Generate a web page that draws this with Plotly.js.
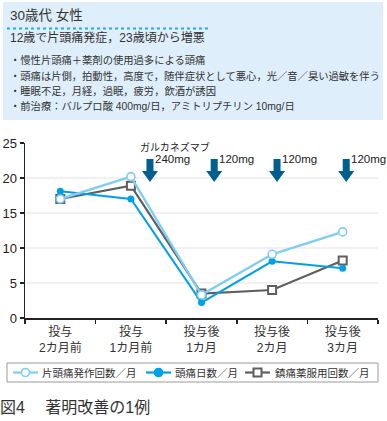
<!DOCTYPE html>
<html><head><meta charset="utf-8">
<script src="https://cdn.plot.ly/plotly-3.0.1.min.js"></script>
<style>html,body{margin:0;padding:0;background:#fff}#chart{width:387px;height:421px}</style>
</head><body><div id="chart"></div>
<script>
// ---- data ----
const categories = ['投与<br>2カ月前','投与<br>1カ月前','投与後<br>1カ月','投与後<br>2カ月','投与後<br>3カ月'];
const seriesNames = ['片頭痛発作回数／月','頭痛日数／月','鎮痛薬服用回数／月'];
const migraineAttacks = [17, 20.2, 3.3, 9.1, 12.3];
const headacheDays = [18.1, 17, 2.2, 8.1, 7.1];
const analgesicUse = [17, 18.9, 3.5, 4, 8.2];
const yTicks = [0, 5, 10, 15, 20, 25];
const gridVals = [5, 10, 15, 20];
const drugName = 'ガルカネズマブ';
const doseLabels = ['240mg', '120mg', '120mg', '120mg'];
const dosePositions = [1.27, 2.18, 3.07, 4.05];
const doseArrowTop = 22.7;
const headerTitle = '30歳代 女性';
const headerSub = '12歳で片頭痛発症，23歳頃から増悪';
const headerBullets = [
  '・慢性片頭痛＋薬剤の使用過多による頭痛',
  '・頭痛は片側，拍動性，高度で，随伴症状として悪心，光／音／臭い過敏を伴う',
  '・睡眠不足，月経，過眠，疲労，飲酒が誘因',
  '・前治療：バルプロ酸 400mg/日，アミトリプチリン 10mg/日'
];
const caption = '図4　 著明改善の1例';

// ---- style ----
const W = 387, H = 421, M = {l: 25, r: 9, t: 143, b: 103};
const pw = W - M.l - M.r, ph = H - M.t - M.b;
const px = x => (x - M.l) / pw;
const py = y => (H - M.b - y) / ph;
const FONT = 'Liberation Sans, Noto Sans CJK JP, sans-serif';
const C_LB = '#7fcdf2', C_B = '#00a0e9', C_G = '#5f5f5f', C_ARROW = '#005f8e', TXT = '#333';

const traces = [
  {x: categories, y: analgesicUse, name: seriesNames[2], type: 'scatter', mode: 'lines+markers',
   line: {color: C_G, width: 2.2}, marker: {symbol: 'square', size: 8, color: '#fff', line: {color: C_G, width: 2}}},
  {x: categories, y: headacheDays, name: seriesNames[1], type: 'scatter', mode: 'lines+markers',
   line: {color: C_B, width: 2}, marker: {symbol: 'circle', size: 7, color: C_B}},
  {x: categories, y: migraineAttacks, name: seriesNames[0], type: 'scatter', mode: 'lines+markers',
   line: {color: C_LB, width: 2.4}, marker: {symbol: 'circle', size: 8, color: '#fff', line: {color: C_LB, width: 1.6}}}
];

const shapes = [];
const annotations = [];

// header box
shapes.push({type: 'rect', xref: 'paper', yref: 'paper', x0: px(3), x1: px(383), y0: py(2), y1: py(120),
  fillcolor: '#deeefa', line: {width: 0}, layer: 'below'});
shapes.push({type: 'line', xref: 'paper', yref: 'paper', x0: px(7), x1: px(208), y0: py(28.5), y1: py(28.5),
  line: {color: '#2aa9e0', width: 2, dash: 'dot'}});
annotations.push({xref: 'paper', yref: 'paper', x: px(8), y: py(16), xanchor: 'left', yanchor: 'middle', showarrow: false,
  text: headerTitle, font: {family: FONT, size: 13.5, color: TXT}});
annotations.push({xref: 'paper', yref: 'paper', x: px(8), y: py(38.5), xanchor: 'left', yanchor: 'middle', showarrow: false,
  text: headerSub, font: {family: FONT, size: 12, color: TXT}});
headerBullets.forEach((t, i) => annotations.push({xref: 'paper', yref: 'paper', x: px(8), y: py(60.5 + i * 15), xanchor: 'left', yanchor: 'middle',
  showarrow: false, text: t, font: {family: FONT, size: 10.3, color: TXT}}));

// grid lines
gridVals.forEach(v => shapes.push({type: 'line', xref: 'paper', yref: 'y', x0: 0, x1: 1, y0: v, y1: v,
  line: {color: '#e3e3e3', width: 1}, layer: 'below'}));

// dose arrows
dosePositions.forEach((xv, i) => {
  shapes.push({type: 'path', xref: 'x', yref: 'y', xsizemode: 'pixel', ysizemode: 'pixel', xanchor: xv, yanchor: doseArrowTop,
    path: 'M-3.5,0 L3.5,0 L3.5,-12 L8,-12 L0,-23 L-8,-12 L-3.5,-12 Z', fillcolor: C_ARROW, line: {width: 0}});
  annotations.push({xref: 'x', yref: 'y', x: xv, y: doseArrowTop, xanchor: 'left', yanchor: 'middle', xshift: 3, yshift: 0,
    showarrow: false, text: doseLabels[i], font: {family: FONT, size: 11.5, color: '#222'}});
});
annotations.push({xref: 'x', yref: 'y', x: dosePositions[0], y: doseArrowTop, xanchor: 'left', yanchor: 'middle', xshift: -12, yshift: 12,
  showarrow: false, text: drugName, font: {family: FONT, size: 10, color: '#222'}});

// manual legend
const LY = 372.5;
shapes.push({type: 'rect', xref: 'paper', yref: 'paper', x0: px(7), x1: px(378), y0: py(363), y1: py(382),
  fillcolor: '#fff', line: {color: '#9a9a9a', width: 1}});
const legItems = [
  {x0: 13, x1: 38, text: 42, color: C_LB, sym: 'open-circle'},
  {x0: 146, x1: 171, text: 175, color: C_B, sym: 'circle'},
  {x0: 245, x1: 270, text: 275, color: C_G, sym: 'open-square'}
];
legItems.forEach((it, i) => {
  shapes.push({type: 'line', xref: 'paper', yref: 'paper', x0: px(it.x0), x1: px(it.x1), y0: py(LY), y1: py(LY),
    line: {color: it.color, width: 2.2}});
  const cx = px((it.x0 + it.x1) / 2), cy = py(LY);
  if (it.sym === 'open-square') {
    shapes.push({type: 'rect', xref: 'paper', yref: 'paper', xsizemode: 'pixel', ysizemode: 'pixel', xanchor: cx, yanchor: cy,
      x0: -4, x1: 4, y0: -4, y1: 4, fillcolor: '#fff', line: {color: it.color, width: 2}});
  } else {
    shapes.push({type: 'circle', xref: 'paper', yref: 'paper', xsizemode: 'pixel', ysizemode: 'pixel', xanchor: cx, yanchor: cy,
      x0: -4, x1: 4, y0: -4, y1: 4, fillcolor: it.sym === 'circle' ? it.color : '#fff', line: {color: it.color, width: 1.6}});
  }
  annotations.push({xref: 'paper', yref: 'paper', x: px(it.text - 2), y: py(LY), xanchor: 'left', yanchor: 'middle', showarrow: false,
    text: seriesNames[i], font: {family: FONT, size: 10.5, color: TXT}});
});

// caption
annotations.push({xref: 'paper', yref: 'paper', x: px(-2), y: py(407), xanchor: 'left', yanchor: 'middle', showarrow: false,
  text: caption, font: {family: FONT, size: 16, color: TXT}});

const layout = {
  width: W, height: H, margin: M, showlegend: false,
  paper_bgcolor: '#fff', plot_bgcolor: '#fff',
  font: {family: FONT, color: TXT},
  xaxis: {type: 'category', range: [-0.5, 4.5], tickson: 'boundaries', ticks: 'outside', ticklen: 4, tickwidth: 1.5, tickcolor: '#222',
    showline: true, linecolor: '#222', linewidth: 1.5, showgrid: false, zeroline: false, fixedrange: true, ticklabelstandoff: 2,
    tickfont: {family: FONT, size: 12, color: TXT}},
  yaxis: {range: [0, 25], tickvals: yTicks, ticks: 'outside', ticklen: 4, tickwidth: 1.5, tickcolor: '#222',
    showline: true, linecolor: '#222', linewidth: 1.5, showgrid: false, zeroline: false, fixedrange: true,
    tickfont: {family: FONT, size: 13, color: '#222'}},
  shapes: shapes, annotations: annotations
};

Plotly.newPlot('chart', traces, layout, {staticPlot: true, displayModeBar: false});
</script></body></html>
